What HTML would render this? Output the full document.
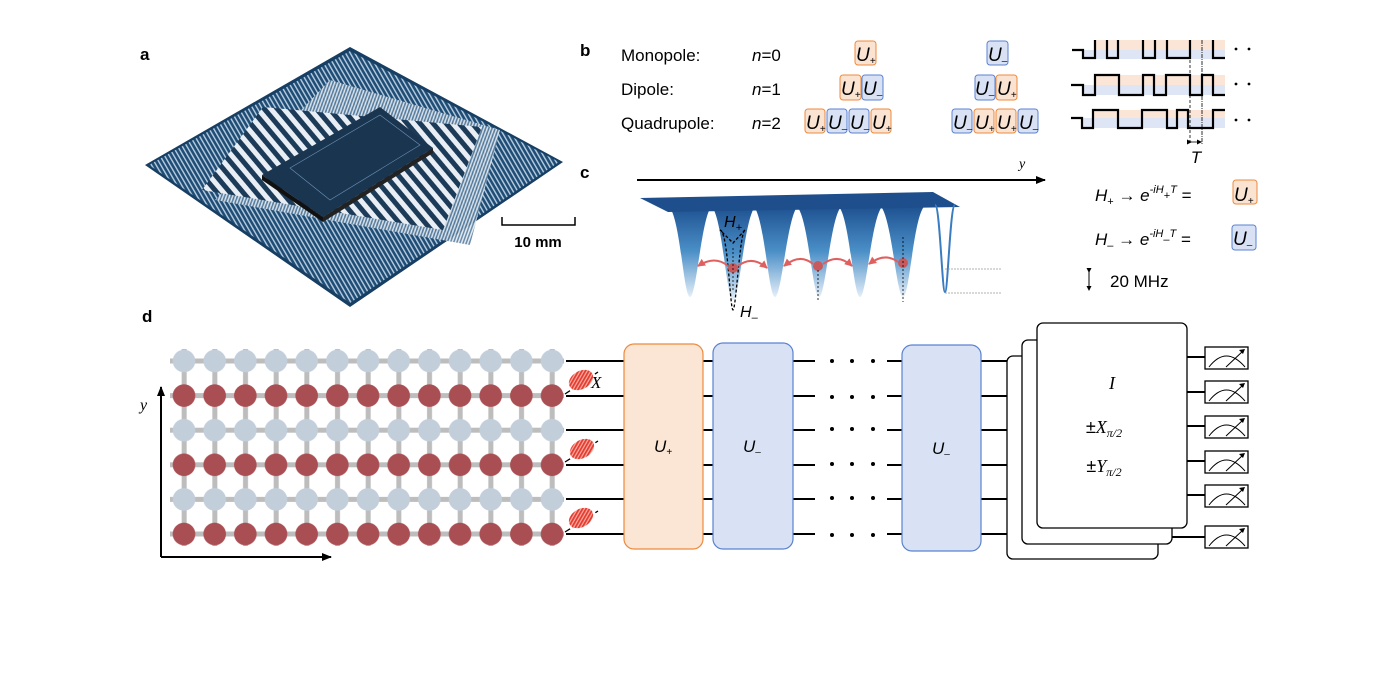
<!DOCTYPE html>
<html><head><meta charset="utf-8"><style>
html,body{margin:0;padding:0;background:#fff}
svg{display:block}
text{font-family:"Liberation Sans",sans-serif}
.it{font-style:italic}
.ser{font-family:"Liberation Serif",serif;font-style:italic}
</style></head><body>
<svg width="1400" height="700" viewBox="0 0 1400 700" xmlns="http://www.w3.org/2000/svg">
<defs>
<linearGradient id="well" x1="0" y1="0" x2="0" y2="1">
<stop offset="0" stop-color="#1d4f8f"/><stop offset="0.5" stop-color="#4a8fc7"/><stop offset="1" stop-color="#e4eef8"/>
</linearGradient>
<pattern id="stripes2" width="4" height="4" patternUnits="userSpaceOnUse" patternTransform="rotate(-30)">
<rect width="4" height="4" fill="#1f4d75"/><rect width="1.4" height="4" fill="#b8cde0"/>
</pattern>
<pattern id="stripesMid" width="3" height="3" patternUnits="userSpaceOnUse" patternTransform="rotate(20)">
<rect width="3" height="3" fill="#5b7f9f"/><rect width="1.5" height="3" fill="#dfe8f0"/>
</pattern>
<pattern id="stripes3" width="10" height="10" patternUnits="userSpaceOnUse" patternTransform="rotate(-40)">
<rect width="10" height="10" fill="#e8eef4"/><rect width="5" height="10" fill="#1c3b58"/>
</pattern>
<pattern id="grid" x="168.67" y="343.7" width="30.67" height="69.2" patternUnits="userSpaceOnUse">
<rect x="0" y="14.8" width="5" height="5" fill="#bdbdbd"/><rect x="25.67" y="14.8" width="5" height="5" fill="#bdbdbd"/>
<rect x="0" y="49.4" width="5" height="5" fill="#bdbdbd"/><rect x="25.67" y="49.4" width="5" height="5" fill="#bdbdbd"/>
<rect x="13" y="27" width="5" height="16" fill="#bdbdbd"/>
<rect x="13" y="62" width="5" height="8" fill="#bdbdbd"/>
<rect x="13" y="0" width="5" height="8" fill="#bdbdbd"/>
<circle cx="15.33" cy="17.3" r="11.3" fill="#c3cedb"/>
<circle cx="15.33" cy="51.9" r="11.3" fill="#a94f54"/>
</pattern>
<pattern id="noise" width="3" height="3" patternUnits="userSpaceOnUse" patternTransform="rotate(60)">
<rect width="3" height="3" fill="#f6b0a8"/><rect width="1.8" height="3" fill="#e63b2e"/>
</pattern>
<marker id="ah" markerWidth="10" markerHeight="8" refX="9" refY="4" orient="auto" markerUnits="userSpaceOnUse"><path d="M0,0 L10,4 L0,8Z" fill="#000"/></marker>
<marker id="ahr" markerWidth="8" markerHeight="8" refX="7" refY="4" orient="auto" markerUnits="userSpaceOnUse"><path d="M0,0 L8,4 L0,8Z" fill="#e06060"/></marker>
<marker id="ahs" markerWidth="5" markerHeight="5" refX="4" refY="2.5" orient="auto" markerUnits="userSpaceOnUse"><path d="M0,0 L5,2.5 L0,5Z" fill="#000"/></marker>
</defs>

<!-- panel a -->
<text x="140" y="60" font-size="17" font-weight="bold">a</text>
<polygon points="350,47 563,162 350,307 145,165" fill="#173e63"/>
<polygon points="350,51 559,162 350,303 149,165" fill="url(#stripes2)"/>
<polygon points="330,80 500,130 470,245 215,200" fill="url(#stripesMid)" opacity="0.9"/>
<polygon points="263,107 482,127 443,230 202,190" fill="url(#stripes3)"/>
<polygon points="262,175 380,107 433,148 323,217" fill="#1a3550"/>
<polygon points="262,175 323,217 323,222 262,180" fill="#111"/>
<polygon points="323,217 433,148 433,153 323,222" fill="#222"/>
<polygon points="290,168 380,115 420,145 330,200" fill="none" stroke="#6d91b4" stroke-width="0.6"/>
<path d="M502,217 V225 H575 V217" fill="none" stroke="#000" stroke-width="1.5"/>
<text x="538" y="247" font-size="15" font-weight="bold" text-anchor="middle">10 mm</text>

<!-- panel b -->
<text x="580" y="56" font-size="17" font-weight="bold">b</text>
<g font-size="17">
<text x="621" y="61">Monopole:</text>
<text x="621" y="95">Dipole:</text>
<text x="621" y="129">Quadrupole:</text>
<text x="752" y="61"><tspan class="it">n</tspan>=0</text>
<text x="752" y="95"><tspan class="it">n</tspan>=1</text>
<text x="752" y="129"><tspan class="it">n</tspan>=2</text>
</g>
<g fill="#fbe3d2" stroke="#ee8a3c" stroke-width="1">
<rect x="855" y="41" width="21" height="24" rx="3"/>
<rect x="840" y="75" width="21" height="25" rx="3"/>
<rect x="996" y="75" width="21" height="25" rx="3"/>
<rect x="805" y="109" width="20" height="24" rx="3"/>
<rect x="871" y="109" width="20" height="24" rx="3"/>
<rect x="974" y="109" width="20" height="24" rx="3"/>
<rect x="996" y="109" width="20" height="24" rx="3"/>
<rect x="1233" y="180" width="24" height="24" rx="3"/>
</g>
<g fill="#d9e2f4" stroke="#5b82d0" stroke-width="1">
<rect x="987" y="41" width="21" height="24" rx="3"/>
<rect x="862" y="75" width="21" height="25" rx="3"/>
<rect x="975" y="75" width="20" height="25" rx="3"/>
<rect x="827" y="109" width="20" height="24" rx="3"/>
<rect x="849" y="109" width="20" height="24" rx="3"/>
<rect x="952" y="109" width="20" height="24" rx="3"/>
<rect x="1018" y="109" width="20" height="24" rx="3"/>
<rect x="1232" y="225" width="24" height="25" rx="3"/>
</g>
<g font-size="19" font-style="italic">
<text x="856" y="61">U<tspan font-size="10" dy="3">+</tspan></text>
<text x="988" y="61">U<tspan font-size="10" dy="3">–</tspan></text>
<text x="841" y="95">U<tspan font-size="10" dy="3">+</tspan></text>
<text x="863" y="95">U<tspan font-size="10" dy="3">–</tspan></text>
<text x="975" y="95">U<tspan font-size="10" dy="3">–</tspan></text>
<text x="997" y="95">U<tspan font-size="10" dy="3">+</tspan></text>
<text x="806" y="129">U<tspan font-size="10" dy="3">+</tspan></text>
<text x="828" y="129">U<tspan font-size="10" dy="3">–</tspan></text>
<text x="850" y="129">U<tspan font-size="10" dy="3">–</tspan></text>
<text x="872" y="129">U<tspan font-size="10" dy="3">+</tspan></text>
<text x="953" y="129">U<tspan font-size="10" dy="3">–</tspan></text>
<text x="975" y="129">U<tspan font-size="10" dy="3">+</tspan></text>
<text x="997" y="129">U<tspan font-size="10" dy="3">+</tspan></text>
<text x="1019" y="129">U<tspan font-size="10" dy="3">–</tspan></text>
</g>
<!-- waveforms -->
<g opacity="0.8">
<rect x="1095" y="40" width="130" height="10" fill="#fadfcc"/><rect x="1083" y="50" width="142" height="9" fill="#d6dff3"/>
<rect x="1095" y="75" width="130" height="10" fill="#fadfcc"/><rect x="1083" y="85" width="142" height="10" fill="#d6dff3"/>
<rect x="1093" y="110" width="132" height="8" fill="#fadfcc"/><rect x="1081" y="118" width="144" height="10" fill="#d6dff3"/>
</g>
<g fill="none" stroke="#000" stroke-width="2.2">
<path d="M1072,50 H1083 V58 H1095 V40 M1107,40 V58 H1118 V40 M1143,40 V58 H1155 V40 M1167,40 V58 H1190 V40 M1213,40 V58 H1225"/>
<path d="M1071,85 H1083 V95 H1095 V75 H1119 V95 H1143 V75 H1154 V95 H1166 V75 H1190 V95 H1202 V75 H1213 V95 H1225"/>
<path d="M1071,118 H1082 V128 H1093 V110 H1118 V128 H1142 V110 H1167 V128 H1177 V110 H1188 V128 H1213 V110 H1225"/>
</g>
<g stroke="#000" stroke-width="0.8" stroke-dasharray="3,2">
<line x1="1190" y1="60" x2="1190" y2="145"/><line x1="1202" y1="40" x2="1202" y2="145" stroke-dasharray="4,1,1,1"/>
</g>
<line x1="1191" y1="142" x2="1201" y2="142" stroke="#000" stroke-width="0.8" marker-end="url(#ahs)" marker-start="url(#ahs)"/>
<text x="1196" y="163" font-size="17" class="it" text-anchor="middle">T</text>
<g fill="#000"><circle cx="1236" cy="49" r="1.4"/><circle cx="1249" cy="49" r="1.4"/><circle cx="1236" cy="84" r="1.4"/><circle cx="1249" cy="84" r="1.4"/><circle cx="1236" cy="120" r="1.4"/><circle cx="1249" cy="120" r="1.4"/></g>

<!-- panel c -->
<text x="580" y="178" font-size="17" font-weight="bold">c</text>
<line x1="637" y1="180" x2="1045" y2="180" stroke="#000" stroke-width="2" marker-end="url(#ah)"/>
<text x="1019" y="168" font-size="14" class="ser">y</text>
<g fill="url(#well)">
<path d="M666,205 C680,205 683,297 690,297 C697,297 702,205 714,205Z"/>
<path d="M709,205 C722,205 726,300 733,300 C740,300 745,205 758,205Z"/>
<path d="M751,205 C764,205 768,297 775,297 C782,297 788,205 800,205Z"/>
<path d="M794,205 C808,205 812,297 819,297 C826,297 831,205 844,205Z"/>
<path d="M836,205 C849,205 853,297 860,297 C867,297 872,205 885,205Z"/>
<path d="M878,205 C891,205 896,297 903,297 C910,297 914,205 927,205Z"/>
</g>
<polygon points="640,198 933,192 960,207 668,212" fill="#1e4f8c"/>
<path d="M935,205 C940,205 942,292 945,292 C948,292 950,205 955,205" fill="none" stroke="#3a7cc2" stroke-width="2"/>
<path d="M745,230 L733,243 L720,230" fill="none" stroke="#000" stroke-width="1.3" stroke-dasharray="3,2"/>
<path d="M720,230 C728,230 730,310 733,310 C736,310 740,230 745,230" fill="none" stroke="#000" stroke-width="1.3" stroke-dasharray="3,2"/>
<text x="724" y="227" font-size="16" class="it">H<tspan font-size="11" dy="4">+</tspan></text>
<text x="740" y="317" font-size="16" class="it">H<tspan font-size="11" dy="4">–</tspan></text>
<g fill="#c85a5e"><circle cx="733" cy="268" r="5"/><circle cx="818" cy="266" r="5"/><circle cx="903" cy="263" r="5"/></g>
<g fill="none" stroke="#e06060" stroke-width="2">
<path d="M728,266 Q715,255 698,266" marker-end="url(#ahr)"/>
<path d="M738,266 Q752,255 767,268" marker-end="url(#ahr)"/>
<path d="M813,264 Q800,253 784,266" marker-end="url(#ahr)"/>
<path d="M823,264 Q838,253 852,266" marker-end="url(#ahr)"/>
<path d="M898,262 Q885,252 869,264" marker-end="url(#ahr)"/>
</g>
<g stroke="#000" stroke-width="0.8" stroke-dasharray="2,2"><line x1="733" y1="248" x2="733" y2="290"/><line x1="818" y1="270" x2="818" y2="302"/><line x1="903" y1="237" x2="903" y2="302"/></g>
<g stroke="#999" stroke-width="0.8" stroke-dasharray="2,1"><line x1="945" y1="269" x2="1002" y2="269"/><line x1="945" y1="293" x2="1002" y2="293"/></g>
<line x1="1089" y1="272" x2="1089" y2="290" stroke="#000" stroke-width="1" marker-end="url(#ahs)" marker-start="url(#ahs)"/>
<text x="1110" y="287" font-size="17">20 MHz</text>
<g font-size="17">
<text x="1095" y="201"><tspan class="it">H</tspan><tspan font-size="11" dy="4">+</tspan><tspan dy="-4"> →  </tspan><tspan class="it">e</tspan><tspan font-size="11" dy="-8" class="it">-iH</tspan><tspan font-size="11" dy="6">+</tspan><tspan font-size="11" dy="-6" class="it">T</tspan><tspan dy="8">  =</tspan></text>
<text x="1095" y="245"><tspan class="it">H</tspan><tspan font-size="11" dy="4">–</tspan><tspan dy="-4"> →  </tspan><tspan class="it">e</tspan><tspan font-size="11" dy="-8" class="it">-iH</tspan><tspan font-size="11" dy="6">–</tspan><tspan font-size="11" dy="-6" class="it">T</tspan><tspan dy="8">  =</tspan></text>
<text x="1234" y="201" font-size="19" class="it">U<tspan font-size="10" dy="3">+</tspan></text>
<text x="1233" y="245" font-size="19" class="it">U<tspan font-size="10" dy="3">–</tspan></text>
</g>

<!-- panel d -->
<text x="142" y="322" font-size="17" font-weight="bold">d</text>
<rect x="170" y="349" width="394" height="197" fill="url(#grid)"/>
<line x1="161" y1="557" x2="161" y2="387" stroke="#000" stroke-width="2" marker-end="url(#ah)"/>
<line x1="161" y1="557" x2="331" y2="557" stroke="#000" stroke-width="2" marker-end="url(#ah)"/>
<text x="140" y="410" font-size="16" class="ser">y</text>
<g stroke="#000" stroke-width="2">
<path d="M566,361H624 M566,396H624 M566,430H624 M566,465H624 M566,499H624 M566,534H624"/>
<path d="M703,361H713 M703,396H713 M703,430H713 M703,465H713 M703,499H713 M703,534H713"/>
<path d="M793,361H815 M793,396H815 M793,430H815 M793,465H815 M793,499H815 M793,534H815"/>
<path d="M887,361H902 M887,396H902 M887,430H902 M887,465H902 M887,499H902 M887,534H902"/>
<path d="M981,361H1020 M981,396H1008 M981,430H1008 M981,465H1008 M981,499H1008 M981,534H1008"/>
<path d="M1187,357H1205 M1187,392H1205 M1187,426H1205 M1187,461H1205 M1187,495H1205 M1172,537H1205"/>
</g>
<g stroke="#000" stroke-width="1.3" stroke-dasharray="6,3">
<line x1="565" y1="394" x2="598" y2="372"/><line x1="565" y1="462" x2="598" y2="441"/><line x1="565" y1="532" x2="598" y2="511"/>
</g>
<g fill="url(#noise)"><ellipse cx="581" cy="380" rx="13" ry="9" transform="rotate(-30 581 380)"/><ellipse cx="582" cy="449" rx="13" ry="9" transform="rotate(-30 582 449)"/><ellipse cx="581" cy="518" rx="13" ry="9" transform="rotate(-30 581 518)"/></g>
<text x="591" y="388" font-size="17" class="ser">X</text>
<rect x="624" y="344" width="79" height="205" rx="10" fill="#fbe5d4" stroke="#ee8a3c" stroke-width="1.2"/>
<rect x="713" y="343" width="80" height="206" rx="10" fill="#d9e2f4" stroke="#5b82d0" stroke-width="1.2"/>
<rect x="902" y="345" width="79" height="206" rx="10" fill="#d9e2f4" stroke="#5b82d0" stroke-width="1.2"/>
<text x="654" y="452" font-size="17" class="it">U<tspan font-size="10" dy="3">+</tspan></text>
<text x="743" y="452" font-size="17" class="it">U<tspan font-size="10" dy="3">–</tspan></text>
<text x="932" y="454" font-size="17" class="it">U<tspan font-size="10" dy="3">–</tspan></text>
<g fill="#000">
<circle cx="832" cy="361" r="2"/><circle cx="852" cy="361" r="2"/><circle cx="873" cy="361" r="2"/>
<circle cx="832" cy="397" r="2"/><circle cx="852" cy="397" r="2"/><circle cx="873" cy="397" r="2"/>
<circle cx="832" cy="429" r="2"/><circle cx="852" cy="429" r="2"/><circle cx="873" cy="429" r="2"/>
<circle cx="832" cy="464" r="2"/><circle cx="852" cy="464" r="2"/><circle cx="873" cy="464" r="2"/>
<circle cx="832" cy="498" r="2"/><circle cx="852" cy="498" r="2"/><circle cx="873" cy="498" r="2"/>
<circle cx="832" cy="535" r="2"/><circle cx="852" cy="535" r="2"/><circle cx="873" cy="535" r="2"/>
</g>
<g fill="#fff" stroke="#000" stroke-width="1.3">
<rect x="1007" y="356" width="151" height="203" rx="6"/>
<rect x="1022" y="340" width="150" height="204" rx="6"/>
<rect x="1037" y="323" width="150" height="205" rx="6"/>
</g>
<g font-family="Liberation Serif,serif" font-size="18" text-anchor="middle">
<text x="1112" y="389" class="ser">I</text>
<text x="1104" y="433">±<tspan class="ser">X</tspan><tspan font-size="12" dy="4" class="ser">π/2</tspan></text>
<text x="1104" y="472">±<tspan class="ser">Y</tspan><tspan font-size="12" dy="4" class="ser">π/2</tspan></text>
</g>
<g fill="#fff" stroke="#000" stroke-width="1.3">
<rect x="1205" y="347" width="43" height="22"/><rect x="1205" y="381" width="43" height="22"/><rect x="1205" y="416" width="43" height="22"/>
<rect x="1205" y="451" width="43" height="22"/><rect x="1205" y="485" width="43" height="22"/><rect x="1205" y="526" width="43" height="22"/>
</g>
<g fill="none" stroke="#000" stroke-width="1">
<path d="M1209,367 Q1226,345 1245,367 M1226,367 L1243,351"/>
<path d="M1209,401 Q1226,379 1245,401 M1226,401 L1243,385"/>
<path d="M1209,436 Q1226,414 1245,436 M1226,436 L1243,420"/>
<path d="M1209,471 Q1226,449 1245,471 M1226,471 L1243,455"/>
<path d="M1209,505 Q1226,483 1245,505 M1226,505 L1243,489"/>
<path d="M1209,546 Q1226,524 1245,546 M1226,546 L1243,530"/>
</g>
<g fill="#000">
<path d="M1245,349 l-6,1 l4,4z"/><path d="M1245,383 l-6,1 l4,4z"/><path d="M1245,418 l-6,1 l4,4z"/>
<path d="M1245,453 l-6,1 l4,4z"/><path d="M1245,487 l-6,1 l4,4z"/><path d="M1245,528 l-6,1 l4,4z"/>
</g>
</svg>
</body></html>
